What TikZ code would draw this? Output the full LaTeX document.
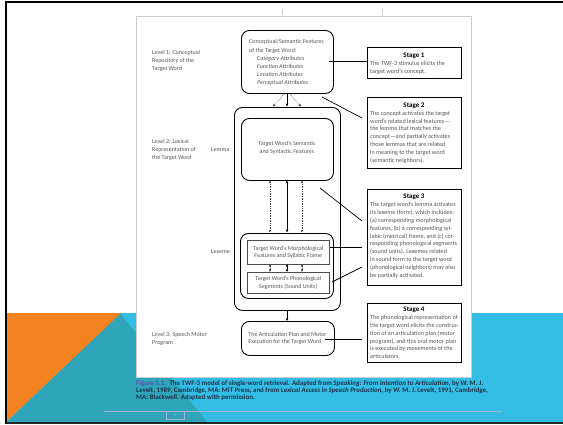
\documentclass[tikz,border=0pt]{standalone}
\usepackage{fontspec}
\setmainfont{Carlito}
\usetikzlibrary{arrows.meta}
\definecolor{bandblue}{RGB}{51,189,228}
\definecolor{tealtri}{RGB}{47,165,185}
\definecolor{orangetri}{RGB}{245,130,32}
\definecolor{inkgray}{RGB}{85,85,85}
\definecolor{pageedge}{RGB}{205,205,205}
\definecolor{capviolet}{RGB}{105,70,170}
\definecolor{capink}{RGB}{30,48,72}
\definecolor{rulegray}{RGB}{165,178,210}
\begin{document}
\begin{tikzpicture}[x=1pt,y=-1pt,
  txt/.style={font=\fontsize{6}{7.8}\selectfont, text=inkgray, inner sep=0, align=left},
  stagetxt/.style={font=\fontsize{6.15}{7.8}\selectfont, text=inkgray, inner sep=0, align=left},
  stagetitle/.style={font=\fontsize{7}{7}\selectfont\bfseries, text=black, inner sep=0},
  rbox/.style={draw=black, line width=0.9pt, rounded corners=8pt, inner sep=0, anchor=north west},
  sqbox/.style={draw=black!70, line width=0.6pt, inner sep=0, anchor=north west,
    font=\fontsize{6}{7.6}\selectfont, text=inkgray, align=center},
  stagebox/.style={draw=black, line width=1.1pt, inner sep=0, anchor=north west},
  link/.style={draw=black, line width=0.7pt},
  tip/.style={-{Stealth[length=3pt,width=2.6pt]}},
  twotip/.style={{Stealth[length=3pt,width=2.6pt]}-{Stealth[length=3pt,width=2.6pt]}},
  dots/.style={densely dotted, line width=0.45pt, draw=black!75}
]
\useasboundingbox (0,0) rectangle (563,424);
% slide background
\fill[white] (0,0) rectangle (563,424);
\fill[bandblue] (7,313) rectangle (563,422);
\fill[tealtri] (120,313) -- (207,422) -- (7,422) -- cycle;
\fill[orangetri] (7,313) -- (121,313) -- (7,421) -- cycle;
% slide frame
\draw[line width=2.2pt] (5,2) -- (563,2);
\draw[line width=2.2pt] (6,1) -- (6,424);
\draw[line width=1.5pt, black!85] (6,423) -- (563,423);
% printed page
\draw[pageedge, fill=white, line width=0.8pt] (136,16) rectangle (471,377);
\draw[pageedge, line width=0.6pt] (282,9) -- (282,16);
\draw[pageedge, line width=0.6pt] (382,9) -- (382,16);

% level labels
\node[txt, anchor=north west] (lev1) at (152,50.5) {Level 1: Conceptual\\Repository of the\\Target Word};
\node[txt, anchor=north west] (lev2) at (152,139.5) {Level 2: Lexical\\Representation of\\the Target Word};
\node[txt, anchor=north west] (lev3) at (152,332.5) {Level 3: Speech Motor\\Program};
\node[txt, anchor=west] (lemma) at (211,150) {Lemma};
\node[txt, anchor=west] (lexeme) at (211,252) {Lexeme};

% level 1 box
\node[rbox, minimum width=92pt, minimum height=63pt] (concept) at (241,30) {};
\node[txt, anchor=north west, font=\fontsize{6}{8.2}\selectfont] (concepttxt) at (249,39.5)
  {Conceptual/Semantic Features\\of the Target Word:\\
   \hspace*{8pt}\textit{Category Attributes}\\
   \hspace*{8pt}\textit{Function Attributes}\\
   \hspace*{8pt}\textit{Location Attributes}\\
   \hspace*{8pt}\textit{Perceptual Attributes}};

% level 2 boxes
\node[rbox, minimum width=106pt, minimum height=203pt] (lexical) at (234,107) {};
\node[rbox, minimum width=92pt, minimum height=62pt] (lemmabox) at (241,118) {};
\node[txt, align=center] (lemmatxt) at (287,147.5) {Target Word's Semantic\\and Syntactic Features};
\node[rbox, minimum width=93pt, minimum height=65pt] (lexemebox) at (240,233) {};
\node[sqbox, minimum width=82pt, minimum height=24pt] (morph) at (247,240)
  {Target Word's Morphological\\Features and Syllabic Frame};
\node[sqbox, minimum width=82pt, minimum height=21pt] (phon) at (247,272)
  {Target Word's Phonological\\Segments (Sound Units)};

% level 3 box
\node[rbox, minimum width=93pt, minimum height=34pt] (motor) at (241,321) {};
\node[txt, align=left] (motortxt) at (287.5,338.5) {The Articulation Plan and Motor\\Execution for the Target Word};

% arrows from the concept box into the lexical level
\coordinate (cL) at (284,94); \coordinate (cM) at (287,94); \coordinate (cR) at (290,94);
\coordinate (lL) at (273,106.5); \coordinate (lM) at (287,106.5); \coordinate (lR) at (301,106.5);
\draw[link, tip, dots] (cL) -- (lL);
\draw[link, tip] (cM) -- (lM);
\draw[link, tip, dots] (cR) -- (lR);

% lemma <-> lexeme
\draw[link, twotip, dots] (270,180.5) coordinate (a1) -- (270,232.5) coordinate (b1);
\draw[link, twotip] (287,180.5) coordinate (a2) -- (287,232.5) coordinate (b2);
\draw[link, twotip, dots] (302,180.5) coordinate (a3) -- (302,232.5) coordinate (b3);
% morphology <-> phonology
\draw[link, twotip, dots] (270,264) -- (270,272);
\draw[link, twotip] (287,264) -- (287,272);
\draw[link, twotip, dots] (302,264) -- (302,272);
% lexical level -> motor program
\draw[link, tip] (lexical.south -| cM) -- (motor.north -| cM);

% stage boxes
\node[stagebox, minimum width=94pt, minimum height=31pt] (stage1) at (367,47) {};
\node[stagetitle] (st1t) at (414,55.5) {Stage 1};
\node[stagetxt, anchor=north west] (st1b) at (370,61.2)
  {The TWF-3 stimulus elicits the\\target word's concept.};

\node[stagebox, minimum width=94pt, minimum height=71pt] (stage2) at (367,97) {};
\node[stagetitle] (st2t) at (414,105.5) {Stage 2};
\node[stagetxt, anchor=north west] (st2b) at (370,110.8)
  {The concept activates the target\\word's related lexical features---\\the lemma that matches the\\concept---and partially activates\\those lemmas that are related\\in meaning to the target word\\(semantic neighbors).};

\node[stagebox, minimum width=94pt, minimum height=96pt] (stage3) at (367,189) {};
\node[stagetitle] (st3t) at (414,197) {Stage 3};
\node[stagetxt, anchor=north west] (st3b) at (370,202.3)
  {The target word's lemma activates\\its lexeme (form), which includes:\\(a) corresponding morphological\\features, (b) a corresponding syl-\\labic (metrical) frame, and (c) cor-\\responding phonological segments\\(sound units). Lexemes related\\in sound form to the target word\\(phonological neighbors) may also\\be partially activated.};

\node[stagebox, minimum width=94pt, minimum height=59pt] (stage4) at (367,303) {};
\node[stagetitle] (st4t) at (414,310) {Stage 4};
\node[stagetxt, anchor=north west] (st4b) at (370,315.3)
  {The phonological representation of\\the target word elicits the construc-\\tion of an articulation plan (motor\\program), and this oral motor plan\\is executed by movements of the\\articulators.};

% connectors to the stage boxes
\coordinate (k1) at (329,61);
\draw[link] (k1) -- (k1 -| stage1.west);
\coordinate (k2a) at (322,97); \coordinate (k2b) at (362,118);
\draw[link] (k2a) -- (k2b);
\coordinate (k3a) at (320,188); \coordinate (k3b) at (362,221);
\draw[link] (k3a) -- (k3b);
\coordinate (k4b) at (362,247);
\draw[link] (morph.east |- k4b) -- (k4b);
\coordinate (k5a) at (332,282); \coordinate (k5b) at (362,267);
\draw[link] (k5a) -- (k5b);
\coordinate (k6a) at (325,339); \coordinate (k6b) at (362,339);
\draw[link] (k6a) -- (k6b);

% caption
\node[anchor=north west, inner sep=0, align=left, font=\fontsize{6.9}{7}\selectfont\bfseries, text=capink] (caption) at (136,380.5)
  {\textcolor{capviolet}{Figure 1.1.}\enspace The TWF-3 model of single-word retrieval. Adapted from \textit{Speaking: From Intention to Articulation,} by W. M. J.\\
   Levelt, 1989, Cambridge, MA: MIT Press, and from \textit{Lexical Access in Speech Production,} by W. M. J. Levelt, 1991, Cambridge,\\
   MA: Blackwell. Adapted with permission.};

% footer rule and page number
\draw[rulegray, line width=0.8pt] (104,411) coordinate (r1) -- (502,411) coordinate (r2);
\node[draw=rulegray, line width=0.7pt, minimum width=18pt, minimum height=7.5pt, inner sep=0,
  font=\fontsize{4}{4}\selectfont, text=rulegray, anchor=north west] (pgno) at (166,411) {2};
\end{tikzpicture}
\end{document}
